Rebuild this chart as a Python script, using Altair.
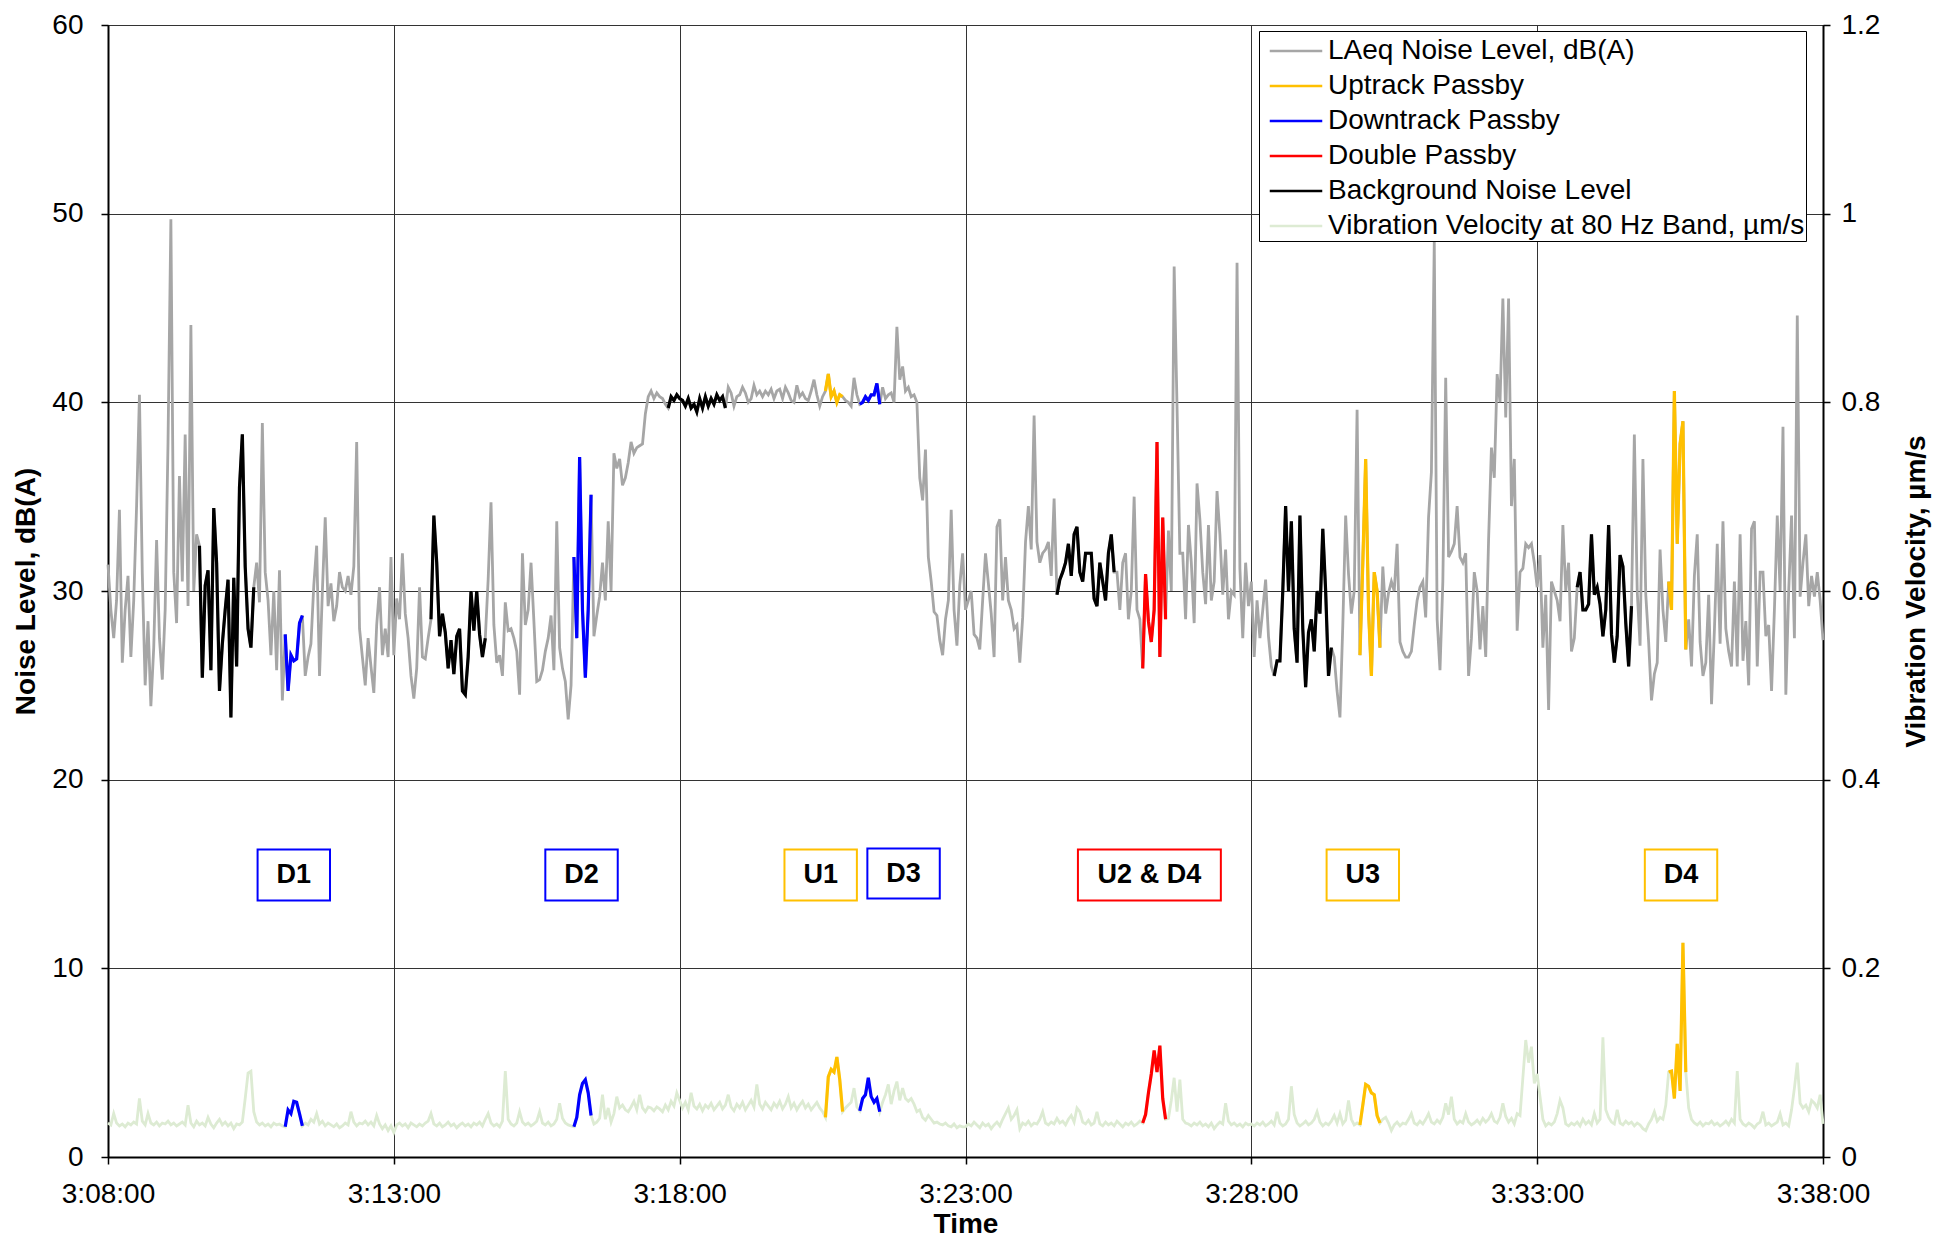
import altair as alt
import pandas as pd

FONT = "Liberation Sans"
START = 3 * 3600 + 8 * 60      # 3:08:00, seconds of day
STEP = 3                        # seconds between readings

# ---- LAeq noise level, dB(A): 3:08:00 then one value every 3 s ----
NOISE_T0 = 31.4
NOISE_0308 = [
    29.0, 27.5, 29.5, 34.3, 26.2, 29.0, 30.8, 26.5, 29.5, 34.5, 40.4, 30.9, 25.0, 28.4, 23.9, 27.0, 32.7, 27.5, 25.3, 29.0,
    37.9, 49.7, 31.0, 28.3, 36.1, 30.5, 38.3, 29.2, 44.1, 30.0, 33.0, 32.4, 25.4, 30.3, 31.1, 25.8, 34.4, 31.5, 24.7, 27.2,
    29.0, 30.6, 23.3, 30.7, 26.0, 35.5, 38.3, 31.3, 28.0, 27.0, 30.2, 31.5, 29.4, 38.9, 31.0, 29.5, 26.6, 30.0, 25.8, 31.1,
    24.2, 27.7, 24.7, 26.6, 26.3, 26.4, 28.3, 28.7, 25.5, 26.5, 27.2, 30.3, 32.4, 25.5, 30.0, 33.9, 29.2, 30.4, 28.4, 29.2,
    31.0, 30.2, 30.0, 30.8, 29.8, 31.3, 37.9, 28.0, 26.5, 25.0, 27.5, 26.0, 24.6, 28.2, 30.2, 26.6, 28.0, 26.5, 31.8, 26.6,
]
NOISE_0313 = [
    29.6, 28.5, 32.0, 28.8, 27.5, 25.5, 24.3, 25.9, 30.2, 26.5, 26.4, 27.5, 28.5, 34.0, 31.5, 27.6, 28.8, 27.8, 25.9, 27.4,
    25.6, 27.6, 28.0, 24.7, 24.5, 26.5, 30.0, 27.9, 30.0, 27.7, 26.5, 27.5, 30.6, 34.7, 28.2, 26.2, 26.6, 25.5, 29.4, 27.9,
    28.0, 27.5, 26.8, 24.5, 32.0, 28.2, 29.0, 31.5, 28.4, 25.2, 25.3, 25.8, 26.8, 27.5, 28.7, 25.8, 33.7, 27.0, 25.9, 25.2,
    23.2, 25.0, 31.8, 27.5, 37.1, 29.0, 25.4, 29.0, 35.1, 27.6, 28.7, 29.7, 31.5, 29.5, 33.7, 30.0, 37.3, 36.5, 37.0, 35.6,
    36.0, 36.8, 37.9, 37.3, 37.6, 37.7, 37.8, 39.4, 40.3, 40.6, 40.2, 40.5, 40.3, 40.2, 39.9, 39.7, 40.3, 40.1, 40.4, 40.2,
]
NOISE_0318 = [
    40.1, 39.8, 40.2, 39.7, 39.9, 39.5, 40.2, 39.7, 40.3, 39.8, 40.2, 39.9, 40.4, 40.1, 40.3, 39.7, 40.8, 40.5, 39.8, 40.3,
    40.4, 40.8, 40.5, 40.0, 40.2, 40.9, 40.4, 40.6, 40.3, 40.6, 40.4, 40.7, 40.2, 40.6, 40.7, 40.2, 40.8, 40.5, 40.1, 40.0,
    40.9, 40.3, 40.5, 40.2, 40.1, 40.6, 41.2, 40.4, 39.8, 40.3, 40.6, 41.5, 40.3, 40.6, 40.0, 40.4, 40.3, 40.1, 40.0, 39.8,
    41.3, 40.4, 39.9, 40.0, 40.3, 40.1, 40.4, 40.4, 41.0, 39.9, 40.8, 40.2, 40.4, 40.5, 40.0, 44.0, 41.2, 41.9, 40.6, 40.8,
    40.3, 40.4, 40.0, 36.0, 34.8, 37.5, 31.8, 30.5, 28.9, 28.7, 27.4, 26.6, 28.5, 29.5, 34.3, 29.0, 27.1, 30.3, 32.0, 29.0,
]
NOISE_0323 = [
    29.5, 30.0, 27.7, 27.5, 26.9, 29.5, 32.0, 30.4, 28.8, 26.5, 33.4, 33.8, 29.5, 31.8, 29.5, 29.0, 28.0, 28.2, 26.2, 28.6,
    32.6, 34.5, 32.2, 39.3, 32.6, 31.5, 32.0, 32.2, 32.6, 30.8, 34.9, 29.8, 30.6, 31.0, 31.5, 32.5, 30.8, 33.0, 33.4, 31.0,
    30.5, 32.0, 32.0, 32.0, 29.6, 29.2, 31.5, 30.5, 29.5, 32.0, 33.0, 31.0, 31.0, 29.0, 31.5, 32.0, 28.5, 30.0, 35.0, 29.0,
    28.5, 25.9, 30.9, 28.4, 27.3, 29.0, 37.9, 26.5, 33.9, 28.5, 33.2, 30.0, 47.2, 39.8, 32.0, 32.0, 28.5, 33.5, 31.5, 28.3,
    35.7, 33.8, 31.0, 29.3, 33.5, 29.5, 30.5, 35.3, 33.0, 29.8, 32.2, 28.5, 30.0, 29.8, 47.4, 31.2, 27.5, 31.5, 29.2, 30.5,
]
NOISE_0328 = [
    26.5, 29.5, 27.5, 29.0, 30.6, 27.6, 26.0, 25.5, 26.3, 26.3, 30.0, 34.5, 30.0, 33.7, 28.0, 26.2, 34.0, 28.0, 24.9, 27.8,
    28.5, 26.8, 30.0, 28.8, 33.3, 30.0, 25.5, 27.0, 26.5, 24.7, 23.3, 28.2, 34.0, 30.9, 28.8, 30.0, 39.6, 26.6, 31.5, 37.0,
    29.0, 25.5, 31.0, 30.0, 27.0, 31.3, 28.8, 29.9, 30.5, 30.0, 32.5, 27.3, 26.8, 26.5, 26.5, 26.8, 28.2, 29.5, 30.2, 30.5,
    28.6, 33.9, 36.3, 48.5, 28.5, 25.8, 30.5, 41.3, 31.8, 32.1, 32.5, 34.5, 31.8, 31.5, 32.0, 25.5, 27.5, 31.0, 30.0, 26.9,
    29.2, 26.5, 32.7, 37.6, 36.0, 41.5, 40.0, 45.5, 39.2, 45.5, 34.5, 37.0, 27.9, 31.0, 31.2, 32.5, 32.3, 32.5, 31.5, 30.2,
]
NOISE_0333 = [
    31.9, 27.0, 29.8, 23.7, 30.5, 30.0, 29.5, 28.4, 33.5, 30.0, 31.5, 26.8, 27.5, 30.2, 31.0, 29.0, 29.0, 29.3, 33.0, 29.8,
    30.2, 29.3, 27.6, 29.0, 33.5, 27.7, 26.2, 27.6, 31.9, 31.3, 28.3, 26.0, 29.2, 38.3, 30.0, 27.1, 37.0, 29.8, 27.3, 24.2,
    25.6, 26.2, 32.2, 29.0, 27.3, 30.5, 29.0, 40.6, 32.5, 37.8, 39.0, 26.9, 28.5, 26.0, 30.8, 33.0, 27.3, 25.5, 26.2, 29.8,
    24.0, 27.9, 32.5, 27.2, 33.7, 28.0, 26.8, 26.0, 30.5, 26.0, 33.0, 26.3, 28.4, 25.0, 33.3, 33.7, 26.0, 31.0, 31.0, 27.6,
    28.2, 24.7, 29.0, 34.0, 30.0, 38.7, 24.5, 30.0, 34.0, 27.5, 44.6, 29.7, 31.5, 33.0, 29.2, 30.8, 29.7, 31.0, 29.5, 27.4,
]

# ---- Vibration velocity at 80 Hz band, um/s (same time base) ----
VIB_T0 = 0.036
VIB_0308 = [
    0.034, 0.046, 0.036, 0.033, 0.035, 0.032, 0.036, 0.034, 0.037, 0.035, 0.062, 0.038, 0.034, 0.046, 0.036, 0.034, 0.037, 0.033, 0.036, 0.035,
    0.038, 0.034, 0.036, 0.033, 0.035, 0.037, 0.034, 0.055, 0.036, 0.032, 0.038, 0.034, 0.036, 0.033, 0.042, 0.035, 0.031, 0.036, 0.040, 0.034,
    0.037, 0.033, 0.036, 0.030, 0.035, 0.034, 0.037, 0.062, 0.089, 0.091, 0.048, 0.037, 0.034, 0.036, 0.033, 0.035, 0.032, 0.036, 0.034, 0.035,
    0.033, 0.032, 0.050, 0.046, 0.059, 0.058, 0.046, 0.033, 0.036, 0.034, 0.040, 0.037, 0.046, 0.035, 0.038, 0.033, 0.036, 0.034, 0.032, 0.035,
    0.031, 0.033, 0.036, 0.034, 0.048, 0.037, 0.033, 0.036, 0.035, 0.038, 0.034, 0.037, 0.033, 0.044, 0.035, 0.030, 0.034, 0.028, 0.033, 0.026,
]
VIB_0313 = [
    0.034, 0.036, 0.033, 0.035, 0.031, 0.036, 0.034, 0.032, 0.035, 0.033, 0.036, 0.038, 0.046, 0.035, 0.033, 0.036, 0.032, 0.034, 0.037, 0.033,
    0.035, 0.031, 0.034, 0.036, 0.033, 0.035, 0.032, 0.036, 0.034, 0.037, 0.033, 0.040, 0.046, 0.036, 0.033, 0.035, 0.032, 0.038, 0.091, 0.040,
    0.035, 0.033, 0.036, 0.048, 0.037, 0.034, 0.036, 0.033, 0.035, 0.038, 0.048, 0.036, 0.034, 0.037, 0.033, 0.035, 0.040, 0.057, 0.041, 0.036,
    0.034, 0.033, 0.032, 0.042, 0.066, 0.078, 0.082, 0.068, 0.044, 0.035, 0.037, 0.041, 0.066, 0.040, 0.052, 0.037, 0.046, 0.064, 0.052, 0.055,
    0.050, 0.048, 0.053, 0.059, 0.050, 0.066, 0.052, 0.048, 0.053, 0.052, 0.049, 0.053, 0.051, 0.048, 0.055, 0.050, 0.059, 0.054, 0.068, 0.060,
]
VIB_0318 = [
    0.052, 0.058, 0.050, 0.068, 0.054, 0.051, 0.056, 0.049, 0.055, 0.052, 0.057, 0.050, 0.054, 0.058, 0.051, 0.055, 0.066, 0.053, 0.049, 0.056,
    0.052, 0.058, 0.050, 0.055, 0.060, 0.053, 0.077, 0.056, 0.051, 0.058, 0.054, 0.050, 0.057, 0.053, 0.059, 0.051, 0.056, 0.064, 0.052, 0.057,
    0.050, 0.055, 0.059, 0.052, 0.056, 0.050, 0.054, 0.058, 0.052, 0.048, 0.042, 0.085, 0.093, 0.090, 0.106, 0.082, 0.048, 0.052, 0.055, 0.058,
    0.073, 0.053, 0.049, 0.062, 0.066, 0.084, 0.064, 0.058, 0.062, 0.048, 0.058, 0.066, 0.077, 0.056, 0.070, 0.080, 0.060, 0.073, 0.062, 0.059,
    0.062, 0.056, 0.048, 0.050, 0.042, 0.039, 0.044, 0.040, 0.036, 0.037, 0.035, 0.034, 0.036, 0.033, 0.032, 0.035, 0.031, 0.033, 0.032, 0.032,
]
VIB_0323 = [
    0.035, 0.033, 0.037, 0.034, 0.031, 0.036, 0.033, 0.035, 0.030, 0.034, 0.037, 0.033, 0.040, 0.046, 0.052, 0.040, 0.044, 0.050, 0.030, 0.036,
    0.034, 0.038, 0.033, 0.036, 0.035, 0.040, 0.048, 0.036, 0.034, 0.037, 0.035, 0.041, 0.036, 0.038, 0.034, 0.040, 0.044, 0.037, 0.052, 0.048,
    0.037, 0.035, 0.039, 0.034, 0.036, 0.048, 0.035, 0.033, 0.037, 0.034, 0.036, 0.033, 0.038, 0.035, 0.032, 0.036, 0.034, 0.037, 0.033, 0.035,
    0.038, 0.036, 0.045, 0.068, 0.088, 0.113, 0.090, 0.118, 0.062, 0.040, 0.041, 0.060, 0.084, 0.048, 0.082, 0.040, 0.036, 0.035, 0.033, 0.036,
    0.034, 0.037, 0.033, 0.035, 0.032, 0.036, 0.030, 0.034, 0.037, 0.035, 0.057, 0.038, 0.034, 0.036, 0.033, 0.035, 0.032, 0.036, 0.034, 0.035,
]
VIB_0328 = [
    0.033, 0.036, 0.034, 0.037, 0.033, 0.035, 0.038, 0.034, 0.048, 0.036, 0.033, 0.035, 0.040, 0.075, 0.045, 0.036, 0.033, 0.035, 0.038, 0.034,
    0.036, 0.040, 0.048, 0.037, 0.033, 0.036, 0.034, 0.038, 0.044, 0.036, 0.046, 0.035, 0.039, 0.060, 0.040, 0.034, 0.036, 0.034, 0.055, 0.077,
    0.075, 0.068, 0.066, 0.044, 0.036, 0.040, 0.042, 0.036, 0.028, 0.034, 0.037, 0.033, 0.036, 0.035, 0.040, 0.046, 0.036, 0.034, 0.038, 0.035,
    0.040, 0.046, 0.037, 0.035, 0.039, 0.036, 0.042, 0.057, 0.045, 0.064, 0.040, 0.035, 0.038, 0.036, 0.046, 0.037, 0.034, 0.036, 0.039, 0.035,
    0.041, 0.037, 0.040, 0.046, 0.038, 0.036, 0.042, 0.057, 0.043, 0.037, 0.041, 0.035, 0.046, 0.044, 0.084, 0.124, 0.100, 0.117, 0.078, 0.088,
]
VIB_0333 = [
    0.064, 0.040, 0.033, 0.036, 0.034, 0.037, 0.046, 0.060, 0.052, 0.035, 0.033, 0.036, 0.034, 0.037, 0.033, 0.040, 0.035, 0.038, 0.034, 0.046,
    0.036, 0.040, 0.127, 0.050, 0.042, 0.037, 0.035, 0.050, 0.036, 0.034, 0.038, 0.035, 0.037, 0.033, 0.036, 0.034, 0.030, 0.028, 0.035, 0.040,
    0.048, 0.038, 0.042, 0.040, 0.055, 0.090, 0.091, 0.062, 0.120, 0.070, 0.227, 0.090, 0.052, 0.040, 0.036, 0.034, 0.037, 0.033, 0.036, 0.035,
    0.038, 0.034, 0.036, 0.033, 0.035, 0.038, 0.034, 0.040, 0.036, 0.091, 0.040, 0.035, 0.033, 0.036, 0.034, 0.031, 0.035, 0.037, 0.048, 0.034,
    0.036, 0.033, 0.035, 0.037, 0.046, 0.034, 0.036, 0.033, 0.050, 0.073, 0.100, 0.057, 0.052, 0.055, 0.048, 0.060, 0.057, 0.052, 0.066, 0.035,
]

# ---- highlighted stretches (seconds after 3:08:00, inclusive) ----
SEG_TYPE = ["Background Noise Level", "Downtrack Passby", "Background Noise Level", "Downtrack Passby",
            "Background Noise Level", "Uptrack Passby", "Downtrack Passby", "Background Noise Level",
            "Double Passby", "Background Noise Level", "Uptrack Passby", "Background Noise Level",
            "Uptrack Passby"]
SEG_START = [96, 186, 339, 489, 588, 753, 789, 996, 1086, 1224, 1314, 1542, 1638]
SEG_END = [153, 204, 396, 507, 648, 771, 810, 1056, 1110, 1284, 1335, 1599, 1656]

# ---- annotation boxes ----
BOX_LABEL = ["D1", "D2", "U1", "D3", "U2 & D4", "U3", "D4"]
BOX_CENTER = [195, 497, 748, 835, 1093, 1317, 1651]
BOX_HALF = [38, 38, 38, 38, 75, 38, 38]
BOX_LOW = [13.6, 13.6, 13.6, 13.7, 13.6, 13.6, 13.6]
BOX_HIGH = [16.3, 16.3, 16.3, 16.35, 16.3, 16.3, 16.3]
BOX_COLOR = ["#0000FF", "#0000FF", "#FFC000", "#0000FF", "#FF0000", "#FFC000", "#FFC000"]

NOISE_NAME = "LAeq Noise Level, dB(A)"
VIB_NAME = "Vibration Velocity at 80 Hz Band, \u00b5m/s"
LEGEND_ORDER = [NOISE_NAME, "Uptrack Passby", "Downtrack Passby", "Double Passby",
                "Background Noise Level", VIB_NAME]
LEGEND_COLORS = ["#A6A6A6", "#FFC000", "#0000FF", "#FF0000", "#000000", "#DDEBD3"]

noise = [NOISE_T0] + NOISE_0308 + NOISE_0313 + NOISE_0318 + NOISE_0323 + NOISE_0328 + NOISE_0333
vib = [VIB_T0] + VIB_0308 + VIB_0313 + VIB_0318 + VIB_0323 + VIB_0328 + VIB_0333
rel = [i * STEP for i in range(len(noise))]

noise_df = pd.DataFrame({"sec": [START + r for r in rel], "value": noise, "series": NOISE_NAME})
vib_df = pd.DataFrame({"sec": [START + r for r in rel[:len(vib)]], "value": vib, "series": VIB_NAME})

nseg, vseg = [], []
for k, (kind, a, b) in enumerate(zip(SEG_TYPE, SEG_START, SEG_END)):
    for r, nv in zip(rel, noise):
        if a <= r <= b:
            nseg.append({"sec": START + r, "value": nv, "series": kind, "seg": k})
    if kind != "Background Noise Level":
        for r, vv in zip(rel, vib):
            if a <= r <= b:
                vseg.append({"sec": START + r, "value": vv, "series": kind, "seg": k})
nseg_df = pd.DataFrame(nseg)
vseg_df = pd.DataFrame(vseg)

box_df = pd.DataFrame({
    "label": BOX_LABEL,
    "sec": [START + c - h for c, h in zip(BOX_CENTER, BOX_HALF)],
    "sec2": [START + c + h for c, h in zip(BOX_CENTER, BOX_HALF)],
    "mid": [START + c for c in BOX_CENTER],
    "value": BOX_LOW,
    "value2": BOX_HIGH,
    "ymid": [(l + h) / 2 for l, h in zip(BOX_LOW, BOX_HIGH)],
    "color": BOX_COLOR,
})

x_axis = alt.Axis(
    values=[START + 300 * k for k in range(7)],
    labelExpr="utcFormat(datum.value * 1000, '%-H:%M:%S')",
    grid=True, gridColor="#333333", gridWidth=1,
    domainColor="black", domainWidth=2, tickColor="black", tickWidth=1.5, tickSize=7,
    labelFont=FONT, labelFontSize=28, labelColor="black", labelPadding=16,
    labelFlush=False, labelOverlap=False,
    title="Time", titleFont=FONT, titleFontSize=28, titleFontWeight="bold",
    titleColor="black", titlePadding=2,
)
x_scale = alt.Scale(domain=[START, START + 1800], nice=False, zero=False)

left_axis = alt.Axis(
    orient="left", values=[0, 10, 20, 30, 40, 50, 60],
    grid=True, gridColor="#333333", gridWidth=1,
    domainColor="black", domainWidth=2, tickColor="black", tickWidth=1.5, tickSize=7,
    labelFont=FONT, labelFontSize=28, labelColor="black", labelPadding=18,
    title="Noise Level, dB(A)", titleFont=FONT, titleFontSize=28, titleFontWeight="bold",
    titleColor="black", titlePadding=11,
)
left_scale = alt.Scale(domain=[0, 60], nice=False, zero=True)

right_axis = alt.Axis(
    orient="right", values=[0, 0.2, 0.4, 0.6, 0.8, 1.0, 1.2], format="~g",
    grid=False, domainColor="black", domainWidth=2, tickColor="black", tickWidth=1.5, tickSize=7,
    labelFont=FONT, labelFontSize=28, labelColor="black", labelPadding=11,
    title="Vibration Velocity, \u00b5m/s", titleFont=FONT, titleFontSize=28, titleFontWeight="bold",
    titleColor="black", titlePadding=23, titleAngle=270, titleBaseline="top",
)
right_scale = alt.Scale(domain=[0, 1.2], nice=False, zero=True)

color = alt.Color(
    "series:N",
    scale=alt.Scale(domain=LEGEND_ORDER, range=LEGEND_COLORS),
    legend=alt.Legend(
        orient="none", legendX=1151, legendY=6, title=None,
        labelFont=FONT, labelFontSize=28, labelColor="black", labelLimit=1000,
        symbolType="M-1.5,0L1.5,0", symbolSize=1225, symbolStrokeWidth=2.5,
        symbolOffset=17, labelOffset=13, padding=1, rowPadding=2,
        strokeColor="black", fillColor="white",
    ),
)

X = alt.X("sec:Q", scale=x_scale, axis=x_axis)
Y_N = alt.Y("value:Q", scale=left_scale, axis=left_axis)
Y_V = alt.Y("value:Q", scale=right_scale, axis=right_axis)

noise_base = alt.Chart(noise_df).mark_line(strokeWidth=2.8).encode(x=X, y=Y_N, color=color)
noise_seg = alt.Chart(nseg_df).mark_line(strokeWidth=3.2).encode(x=X, y=Y_N, color=color, detail="seg:N")
boxes = alt.Chart(box_df).mark_rect(filled=False, strokeWidth=2).encode(
    x=X, x2="sec2:Q", y=Y_N, y2="value2:Q", stroke=alt.Stroke("color:N", scale=None))
labels = alt.Chart(box_df).mark_text(font=FONT, fontSize=27, fontWeight="bold", color="black",
                                     baseline="middle", align="center").encode(
    x=alt.X("mid:Q", scale=x_scale, axis=x_axis),
    y=alt.Y("ymid:Q", scale=left_scale, axis=left_axis),
    text="label:N")

vib_base = alt.Chart(vib_df).mark_line(strokeWidth=2.8).encode(x=X, y=Y_V, color=color)
vib_seg = alt.Chart(vseg_df).mark_line(strokeWidth=3.2).encode(x=X, y=Y_V, color=color, detail="seg:N")

noise_layer = alt.layer(noise_base, noise_seg, boxes, labels)
vib_layer = alt.layer(vib_base, vib_seg)

chart = alt.layer(noise_layer, vib_layer).resolve_scale(y="independent").properties(
    width=1715, height=1132,
    autosize=alt.AutoSizeParams(type="none"),
    padding={"left": 100, "top": 17, "right": 118, "bottom": 83},
    background="white",
).configure_view(stroke="black", strokeWidth=1)

chart.save("out.html", embed_options={"renderer": "svg", "actions": False})
